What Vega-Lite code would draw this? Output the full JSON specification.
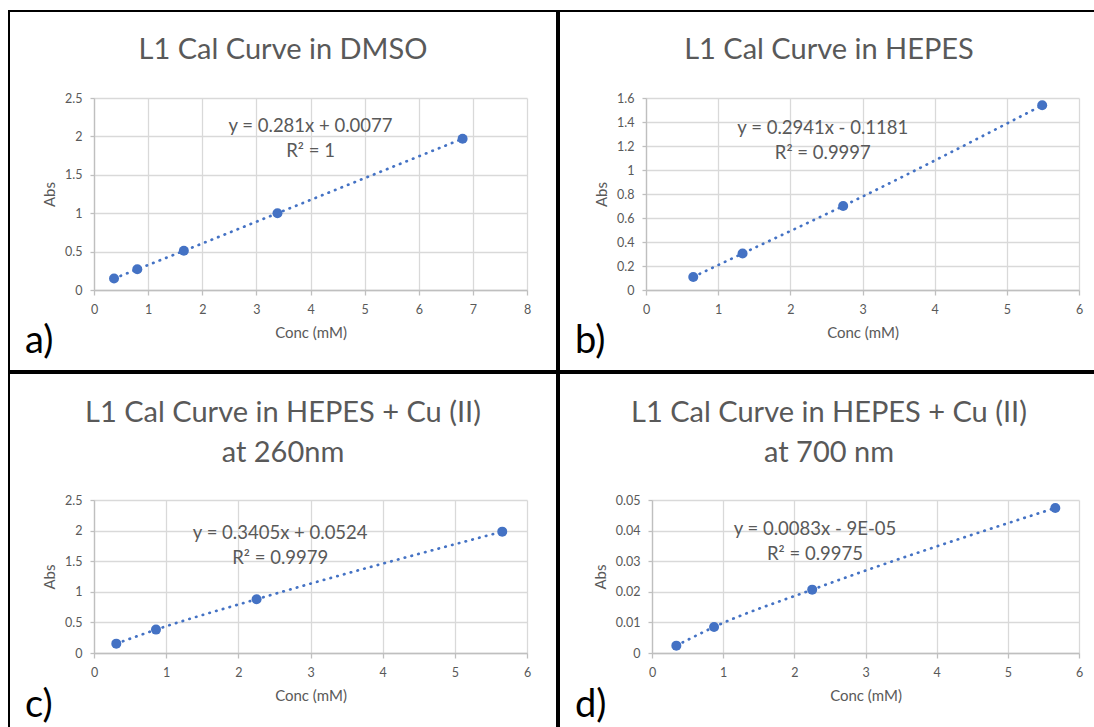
{
  "$schema": "https://vega.github.io/schema/vega-lite/v6.json",
  "padding": {"left": 8, "top": 10, "right": 0, "bottom": 0},
  "spacing": 0,
  "datasets": {
    "points": [
      {"panel": "a", "conc": 0.37, "abs": 0.15},
      {"panel": "a", "conc": 0.80, "abs": 0.27},
      {"panel": "a", "conc": 1.66, "abs": 0.51},
      {"panel": "a", "conc": 3.39, "abs": 1.0},
      {"panel": "a", "conc": 6.81, "abs": 1.97},
      {"panel": "b", "conc": 0.655, "abs": 0.109},
      {"panel": "b", "conc": 1.338, "abs": 0.304},
      {"panel": "b", "conc": 2.732, "abs": 0.70},
      {"panel": "b", "conc": 5.49, "abs": 1.539},
      {"panel": "c", "conc": 0.309, "abs": 0.153},
      {"panel": "c", "conc": 0.859, "abs": 0.382},
      {"panel": "c", "conc": 2.253, "abs": 0.879},
      {"panel": "c", "conc": 5.657, "abs": 1.983},
      {"panel": "d", "conc": 0.342, "abs": 0.0024},
      {"panel": "d", "conc": 0.872, "abs": 0.0085},
      {"panel": "d", "conc": 2.251, "abs": 0.0207},
      {"panel": "d", "conc": 5.667, "abs": 0.0474}
    ],
    "labels": [
      {"panel": "a", "lx": 4.0, "ly": 2.055, "label": "y = 0.281x + 0.0077\nR² = 1"},
      {"panel": "b", "lx": 2.45, "ly": 1.30, "label": "y = 0.2941x - 0.1181\nR² = 0.9997"},
      {"panel": "c", "lx": 2.58, "ly": 1.855, "label": "y = 0.3405x + 0.0524\nR² = 0.9979"},
      {"panel": "d", "lx": 2.29, "ly": 0.0387, "label": "y = 0.0083x - 9E-05\nR² = 0.9975"}
    ]
  },
  "config": {
    "font": "Lato",
    "view": {"stroke": "black", "strokeWidth": 2},
    "axis": {
      "gridColor": "#d9d9d9",
      "gridWidth": 1.3,
      "domainColor": "#bfbfbf",
      "domainWidth": 1.3,
      "tickColor": "#bfbfbf",
      "tickWidth": 1.3,
      "labelColor": "#595959",
      "labelFont": "Lato",
      "labelFontSize": 12.5,
      "labelPadding": 8,
      "labelFlush": false,
      "labelOverlap": false,
      "titleColor": "#595959",
      "titleFont": "Lato",
      "titleFontSize": 15,
      "titleFontWeight": "normal",
      "format": "~g"
    },
    "axisX": {"tickSize": 5, "titlePadding": 10},
    "axisY": {"tickSize": 4, "titlePadding": 7},
    "line": {"color": "#4472C4", "strokeWidth": 2.7, "strokeDash": [0.5, 6.5], "strokeCap": "round", "interpolate": "monotone"},
    "circle": {"color": "#4472C4", "size": 100, "opacity": 1},
    "text": {"align": "center", "baseline": "alphabetic", "lineBreak": "\n", "lineHeight": 25, "fontSize": 18.5, "color": "#595959", "font": "Lato"},
    "title": {"color": "#595959", "font": "Lato", "fontSize": 29, "fontWeight": "normal", "anchor": "middle", "frame": "group", "baseline": "alphabetic", "lineHeight": 40}
  },
  "vconcat": [
    {
      "hconcat": [
        {
          "title": {"text": "a)", "orient": "bottom", "anchor": "start", "frame": "bounds", "offset": -19, "dx": 17, "fontSize": 38, "fontWeight": "normal", "color": "black", "baseline": "alphabetic"},
          "vconcat": [
            {
              "width": 548, "height": 360,
              "title": {"text": "L1 Cal Curve in DMSO", "offset": -54},
              "data": {"name": "points"},
              "transform": [{"filter": "datum.panel === 'a'"}],
              "encoding": {
                "y": {"field": "abs", "type": "quantitative", "scale": {"domain": [0, 2.5], "range": [279, 87], "nice": false, "zero": false}, "axis": {"title": "Abs", "grid": true, "values": [0, 0.5, 1, 1.5, 2, 2.5], "offset": -85}}
              },
              "resolve": {"axis": {"x": "independent"}},
              "layer": [
                {"mark": "line", "encoding": {"x": {"field": "conc", "type": "quantitative", "scale": {"domain": [0, 8], "range": [85, 518], "nice": false, "zero": false}, "axis": {"orient": "top", "offset": 0, "grid": true, "labels": false, "ticks": false, "domain": false, "title": null, "values": [0, 1, 2, 3, 4, 5, 6, 7, 8]}}}},
                {"mark": "circle", "encoding": {"x": {"field": "conc", "type": "quantitative", "axis": {"orient": "bottom", "grid": false, "title": "Conc (mM)", "values": [0, 1, 2, 3, 4, 5, 6, 7, 8], "offset": -81}}}},
                {
                  "data": {"name": "labels"},
                  "transform": [{"filter": "datum.panel === 'a'"}],
                  "mark": "text",
                  "encoding": {
                    "x": {"field": "lx", "type": "quantitative", "axis": null},
                    "y": {"field": "ly", "type": "quantitative"},
                    "text": {"field": "label"}
                  }
                }
              ]
            }
          ]
        },
        {
          "title": {"text": "b)", "orient": "bottom", "anchor": "start", "frame": "bounds", "offset": -19, "dx": 17, "fontSize": 38, "fontWeight": "normal", "color": "black", "baseline": "alphabetic"},
          "vconcat": [
            {
              "width": 540, "height": 360,
              "title": {"text": "L1 Cal Curve in HEPES", "offset": -54},
              "data": {"name": "points"},
              "transform": [{"filter": "datum.panel === 'b'"}],
              "encoding": {
                "y": {"field": "abs", "type": "quantitative", "scale": {"domain": [0, 1.6], "range": [279, 87], "nice": false, "zero": false}, "axis": {"title": "Abs", "grid": true, "values": [0, 0.2, 0.4, 0.6, 0.8, 1, 1.2, 1.4, 1.6], "offset": -87}}
              },
              "resolve": {"axis": {"x": "independent"}},
              "layer": [
                {"mark": "line", "encoding": {"x": {"field": "conc", "type": "quantitative", "scale": {"domain": [0, 6], "range": [87, 520], "nice": false, "zero": false}, "axis": {"orient": "top", "offset": 0, "grid": true, "labels": false, "ticks": false, "domain": false, "title": null, "values": [0, 1, 2, 3, 4, 5, 6]}}}},
                {"mark": "circle", "encoding": {"x": {"field": "conc", "type": "quantitative", "axis": {"orient": "bottom", "grid": false, "title": "Conc (mM)", "values": [0, 1, 2, 3, 4, 5, 6], "offset": -81}}}},
                {
                  "data": {"name": "labels"},
                  "transform": [{"filter": "datum.panel === 'b'"}],
                  "mark": "text",
                  "encoding": {
                    "x": {"field": "lx", "type": "quantitative", "axis": null},
                    "y": {"field": "ly", "type": "quantitative"},
                    "text": {"field": "label"}
                  }
                }
              ]
            }
          ]
        }
      ],
      "spacing": 0
    },
    {
      "hconcat": [
        {
          "title": {"text": "c)", "orient": "bottom", "anchor": "start", "frame": "bounds", "offset": -15, "dx": 17, "fontSize": 38, "fontWeight": "normal", "color": "black", "baseline": "alphabetic"},
          "vconcat": [
            {
              "width": 548, "height": 358,
              "title": {"text": ["L1 Cal Curve in HEPES + Cu (II)", "at 260nm"], "offset": -95},
              "data": {"name": "points"},
              "transform": [{"filter": "datum.panel === 'c'"}],
              "encoding": {
                "y": {"field": "abs", "type": "quantitative", "scale": {"domain": [0, 2.5], "range": [280, 127], "nice": false, "zero": false}, "axis": {"title": "Abs", "grid": true, "values": [0, 0.5, 1, 1.5, 2, 2.5], "offset": -85}}
              },
              "resolve": {"axis": {"x": "independent"}},
              "layer": [
                {"mark": "line", "encoding": {"x": {"field": "conc", "type": "quantitative", "scale": {"domain": [0, 6], "range": [85, 518], "nice": false, "zero": false}, "axis": {"orient": "top", "offset": 0, "grid": true, "labels": false, "ticks": false, "domain": false, "title": null, "values": [0, 1, 2, 3, 4, 5, 6]}}}},
                {"mark": "circle", "encoding": {"x": {"field": "conc", "type": "quantitative", "axis": {"orient": "bottom", "grid": false, "title": "Conc (mM)", "values": [0, 1, 2, 3, 4, 5, 6], "offset": -78}}}},
                {
                  "data": {"name": "labels"},
                  "transform": [{"filter": "datum.panel === 'c'"}],
                  "mark": "text",
                  "encoding": {
                    "x": {"field": "lx", "type": "quantitative", "axis": null},
                    "y": {"field": "ly", "type": "quantitative"},
                    "text": {"field": "label"}
                  }
                }
              ]
            }
          ]
        },
        {
          "title": {"text": "d)", "orient": "bottom", "anchor": "start", "frame": "bounds", "offset": -15, "dx": 17, "fontSize": 38, "fontWeight": "normal", "color": "black", "baseline": "alphabetic"},
          "vconcat": [
            {
              "width": 540, "height": 358,
              "title": {"text": ["L1 Cal Curve in HEPES + Cu (II)", "at 700 nm"], "offset": -95},
              "data": {"name": "points"},
              "transform": [{"filter": "datum.panel === 'd'"}],
              "encoding": {
                "y": {"field": "abs", "type": "quantitative", "scale": {"domain": [0, 0.05], "range": [280, 127], "nice": false, "zero": false}, "axis": {"title": "Abs", "grid": true, "values": [0, 0.01, 0.02, 0.03, 0.04, 0.05], "offset": -93}}
              },
              "resolve": {"axis": {"x": "independent"}},
              "layer": [
                {"mark": "line", "encoding": {"x": {"field": "conc", "type": "quantitative", "scale": {"domain": [0, 6], "range": [93, 520], "nice": false, "zero": false}, "axis": {"orient": "top", "offset": 0, "grid": true, "labels": false, "ticks": false, "domain": false, "title": null, "values": [0, 1, 2, 3, 4, 5, 6]}}}},
                {"mark": "circle", "encoding": {"x": {"field": "conc", "type": "quantitative", "axis": {"orient": "bottom", "grid": false, "title": "Conc (mM)", "values": [0, 1, 2, 3, 4, 5, 6], "offset": -78}}}},
                {
                  "data": {"name": "labels"},
                  "transform": [{"filter": "datum.panel === 'd'"}],
                  "mark": "text",
                  "encoding": {
                    "x": {"field": "lx", "type": "quantitative", "axis": null},
                    "y": {"field": "ly", "type": "quantitative"},
                    "text": {"field": "label"}
                  }
                }
              ]
            }
          ]
        }
      ],
      "spacing": 0
    }
  ]
}
